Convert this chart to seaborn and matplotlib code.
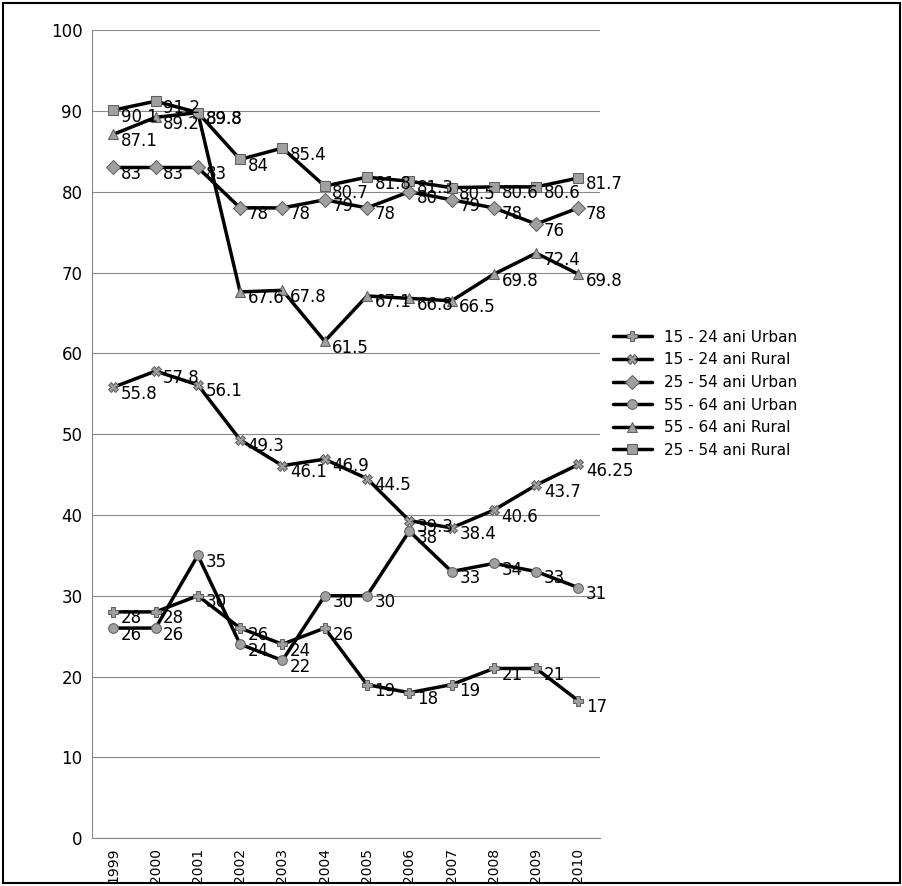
import numpy as np
import pandas as pd
import seaborn as sns
import matplotlib.pyplot as plt

years = [str(y) for y in range(1999, 2011)]
u1524 = [28, 28, 30, 26, 24, 26, 19, 18, 19, 21, 21, 17]
r1524 = [55.8, 57.8, 56.1, 49.3, 46.1, 46.9, 44.5, 39.3, 38.4, 40.6, 43.7, 46.25]
u2554 = [83, 83, 83, 78, 78, 79, 78, 80, 79, 78, 76, 78]
u5564 = [26, 26, 35, 24, 22, 30, 30, 38, 33, 34, 33, 31]
r5564 = [87.1, 89.2, 89.8, 67.6, 67.8, 61.5, 67.1, 66.8, 66.5, 69.8, 72.4, 69.8]
r2554 = [90.1, 91.2, 89.8, 84, 85.4, 80.7, 81.8, 81.3, 80.5, 80.6, 80.6, 81.7]

series = [
    ("15 - 24 ani Urban", u1524, "P"),
    ("15 - 24 ani Rural", r1524, "X"),
    ("25 - 54 ani Urban", u2554, "D"),
    ("55 - 64 ani Urban", u5564, "o"),
    ("55 - 64 ani Rural", r5564, "^"),
    ("25 - 54 ani Rural", r2554, "s"),
]

rows = []
for name, vals, _ in series:
    for y, v in zip(years, vals):
        rows.append({"year": y, "value": v, "series": name})
df = pd.DataFrame(rows)

sns.set_style("white")
fig = plt.figure(figsize=(9.03, 8.86), dpi=100)
ax = fig.add_axes([0.102, 0.054, 0.562, 0.912])

sns.lineplot(data=df, x="year", y="value", hue="series", style="series",
             hue_order=[s[0] for s in series],
             palette=["black"] * 6, markers={s[0]: s[2] for s in series},
             dashes=False, linewidth=2.5, markersize=7,
             markerfacecolor="#a0a0a0", markeredgecolor="#606060", ax=ax)

for name, vals, _ in series:
    for i, v in enumerate(vals):
        ax.text(i + 0.18, v - 0.8, f"{v:g}", fontsize=12, va="center", ha="left",
                color="black")

ax.set_ylim(0, 100)
ax.set_xlim(-0.5, 11.5)
ax.set_yticks(range(0, 101, 10))
ax.yaxis.grid(True, color="#888888", linewidth=0.8)
ax.tick_params(axis="x", rotation=90, labelsize=10, colors="black")
ax.tick_params(axis="y", labelsize=12, colors="black")
ax.set_xlabel("")
ax.set_ylabel("")
for s in ["top", "right"]:
    ax.spines[s].set_visible(False)
ax.spines["left"].set_color("#888888")
ax.spines["bottom"].set_color("#888888")

h, l = ax.get_legend_handles_labels()
ax.legend(h, l, loc="center left", bbox_to_anchor=(1.0, 0.55), frameon=False,
          fontsize=11, handlelength=2.5, labelcolor="black")

fig.patches.append(plt.Rectangle((0.003, 0.003), 0.994, 0.994, fill=False,
                                 edgecolor="black", linewidth=1.5,
                                 transform=fig.transFigure))
fig.savefig("out.png", dpi=100)
